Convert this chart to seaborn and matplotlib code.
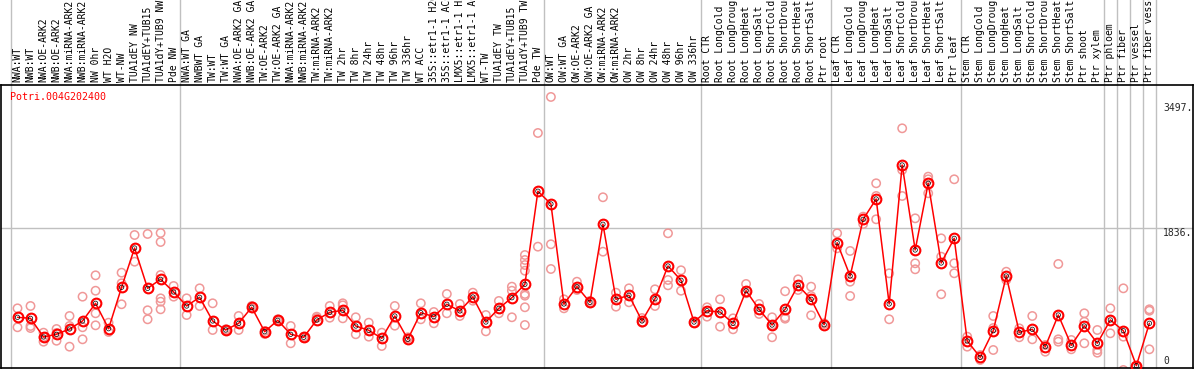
import numpy as np
import pandas as pd
import matplotlib
matplotlib.use("Agg")
import matplotlib.pyplot as plt
import seaborn as sns

# 샘플 이름 (88개)
labels = [
    "NWA:WT", "NWB:WT", "NWA:OE-ARK2", "NWB:OE-ARK2", "NWA:miRNA-ARK2", "NWB:miRNA-ARK2",
    "NW 0hr", "WT H2O", "WT-NW", "TUA1dEY NW", "TUA1dEY+TUB15", "TUA1dY+TUB9 NW", "Pde NW",
    "NWA:WT GA", "NWBWT GA", "TW:WT", "TW:WT GA", "NWA:OE-ARK2 GA", "NWB:OE-ARK2 GA",
    "TW:OE-ARK2", "TW:OE-ARK2 GA", "NWA:miRNA-ARK2", "NWB:miRNA-ARK2", "TW:miRNA-ARK2",
    "TW:miRNA-ARK2", "TW 2hr", "TW 8hr", "TW 24hr", "TW 48hr", "TW 96hr", "TW 336hr", "WT ACC",
    "35S::etr1-1 H2O", "35S::etr1-1 ACC", "LMX5::etr1-1 H2O", "LMX5::etr1-1 ACC", "WT-TW",
    "TUA1dEY TW", "TUA1dEY+TUB15", "TUA1dY+TUB9 TW", "Pde TW",
    "OW:WT", "OW:WT GA", "OW:OE-ARK2", "OW:OE-ARK2 GA", "OW:miRNA-ARK2", "OW:miRNA-ARK2",
    "OW 2hr", "OW 8hr", "OW 24hr", "OW 48hr", "OW 96hr", "OW 336hr",
    "Root CTR", "Root LongCold", "Root LongDrought", "Root LongHeat", "Root LongSalt",
    "Root ShortCold", "Root ShortDrought", "Root ShortHeat", "Root ShortSalt", "Ptr root",
    "Leaf CTR", "Leaf LongCold", "Leaf LongDrought", "Leaf LongHeat", "Leaf LongSalt",
    "Leaf ShortCold", "Leaf ShortDrought", "Leaf ShortHeat", "Leaf ShortSalt", "Ptr leaf",
    "Stem CTR", "Stem LongCold", "Stem LongDrought", "Stem LongHeat", "Stem LongSalt",
    "Stem ShortCold", "Stem ShortDrought", "Stem ShortHeat", "Stem ShortSalt", "Ptr shoot",
    "Ptr xylem", "Ptr phloem", "Ptr fiber", "Ptr vessel", "Ptr fiber vessel",
]

# 그룹 구분선 (그룹 크기)
group_sizes = [13, 28, 12, 10, 10, 11, 1, 1, 1, 1]

# 평균값
means = [
    648, 634, 386, 422, 492, 599, 834, 496, 1047, 1569, 1033, 1153, 984,
    798, 914, 599, 479, 568, 781, 456, 608, 422, 382, 612, 714, 741, 532, 475, 368,
    665, 355, 709, 656, 821, 732, 918, 585, 767, 908, 1087,
    2324, 2155, 825, 1055, 847, 1885, 887, 940, 599, 895, 1330, 1140,
    585, 735, 718, 568, 1001, 754, 545, 754, 1073, 887,
    549, 1640, 1197, 1951, 2221, 825, 2673, 1543, 2430, 1370,
    1698, 333, 116, 469, 1197, 448, 488, 257, 678, 275, 532,
    302, 612, 469, 4, 568,
]

# 반복 측정값
reps = [
    [767, 515], [798, 532, 505], [443, 323, 386], [492, 336, 439], [665, 532, 257],
    [922, 515, 355], [1206, 1001, 701, 541], [576, 452], [1241, 1100, 821], [1742, 1387],
    [1756, 741, 621], [1210, 900, 855, 754, 1769, 1649], [1064, 922],
    [900, 678], [1033, 798], [834, 479], [488, 469], [665, 479], [798, 767], [426, 466],
    [621, 599], [532, 302], [390, 372], [656, 638], [798, 642], [834, 634, 807], [648, 422],
    [576, 390], [443, 266], [798, 536], [368, 382], [834, 621], [718, 568], [958, 701],
    [825, 665], [975, 868], [678, 461], [865, 701], [1055, 1001, 648],
    [1476, 1410, 1343, 1267, 958, 935, 781, 545],
    [3099, 1587], [3578, 1619, 1290], [887, 767], [1121, 1011], [834, 865], [2244, 1520],
    [975, 789], [1033, 847], [576, 638], [1020, 798], [1765, 1144, 1073], [1273, 1001],
    [576, 572], [781, 656], [887, 523], [634, 488], [1091, 967], [825, 692], [648, 382, 545],
    [994, 648, 629], [1153, 1011], [1055, 931, 674],
    [568, 559], [1765, 1565], [1530, 1121, 931], [1986, 1889], [2430, 2261, 1951],
    [1233, 621], [3161, 2607, 2261], [1964, 1366, 1286], [2518, 2483, 2297], [1698, 1454, 954],
    [2483, 1366, 1233], [390, 257], [146, 80], [665, 505, 213], [1254, 1144], [501, 382],
    [665, 355], [279, 190], [1357, 355, 323], [346, 222], [701, 589, 302], [479, 213, 177],
    [767, 435], [1033, 390, -53], [0, 0], [754, 735, 222],
]

ytick_vals = [3497, 1836, 0]
ytick_text = ["3497.", "1836.", "0"]

gene_id = "Potri.004G202400"

# 데이터프레임 구성
idx = np.arange(len(labels))
mean_df = pd.DataFrame({"idx": idx, "value": means})
rep_df = pd.DataFrame(
    [(i, v) for i, vals in enumerate(reps) for v in vals], columns=["idx", "value"]
)

sns.set_style("white")
plt.rcParams["font.family"] = ["DejaVu Sans Mono"]

W, H = 1194, 370
fig = plt.figure(figsize=(W / 100, H / 100), dpi=100)
ax = fig.add_axes([1 / W, 2 / H, 1192 / W, 283 / H])

step = 13.01
x0 = 17.5
ax.set_xlim((1 - x0) / step, (1193 - x0) / step)
ax.set_ylim(-26.6, 3737)

# 구분선
bounds = np.concatenate([[0], np.cumsum(group_sizes)]) - 0.5
for b in bounds:
    ax.axvline(b, ymin=0, ymax=1.32, color="#c0c0c0", lw=1, clip_on=False, zorder=0)
ax.axhline(1836, color="#c0c0c0", lw=1, zorder=0)

# 반복값
sns.scatterplot(data=rep_df, x="idx", y="value", ax=ax, marker="o", s=36,
                facecolors="none", edgecolor="#f09898", linewidth=1.1, zorder=2, legend=False)

# 평균 라인
sns.lineplot(data=mean_df, x="idx", y="value", ax=ax, color="red", lw=1.1,
             marker="o", markersize=7, markerfacecolor="none", markeredgecolor="red",
             markeredgewidth=1.5, zorder=3, legend=False)
sns.scatterplot(data=mean_df, x="idx", y="value", ax=ax, marker="o", s=10,
                facecolors="none", edgecolor="black", linewidth=0.5, zorder=4, legend=False)

# 샘플 라벨 (위쪽 세로)
for i, lab in enumerate(labels):
    ax.text(i, 1 + 3 / 283, lab, transform=ax.get_xaxis_transform(), rotation=90,
            ha="center", va="bottom", fontsize=7, color="black", clip_on=False)

# 오른쪽 값 라벨
tx = (1163 - x0) / step
ax.text(tx, ytick_vals[0], ytick_text[0], ha="left", va="top", fontsize=7)
ax.text(tx, ytick_vals[1], ytick_text[1], ha="left", va="top", fontsize=7)
ax.text(tx, ytick_vals[2], ytick_text[2], ha="left", va="bottom", fontsize=7)

ax.text((10 - x0) / step, (366 - 97) * 13.3, gene_id, color="red", fontsize=7.2,
        ha="left", va="center")

ax.set_xticks([])
ax.set_yticks([])
ax.set_xlabel("")
ax.set_ylabel("")
for s in ax.spines.values():
    s.set_color("black")
    s.set_linewidth(1.2)

fig.savefig("out.png", dpi=100)
